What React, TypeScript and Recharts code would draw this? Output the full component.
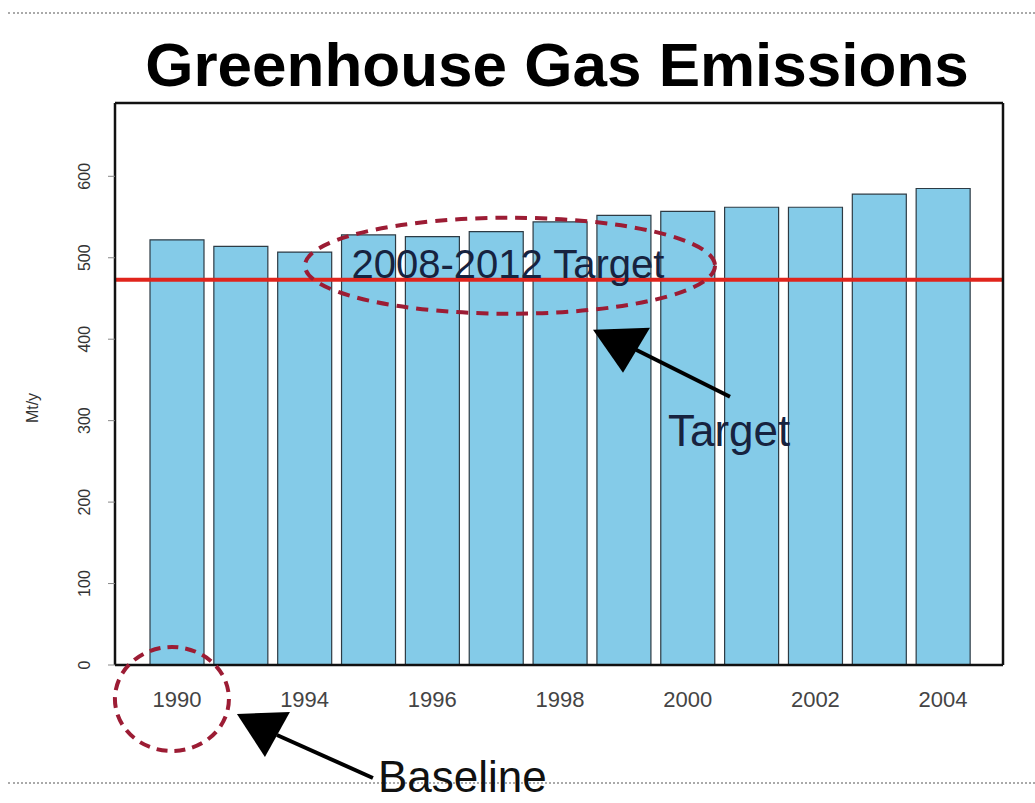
import { BarChart, Bar, XAxis, YAxis, ReferenceLine } from "recharts";

const years = ["1990", "1993", "1994", "1995", "1996", "1997", "1998", "1999", "2000", "2001", "2002", "2003", "2004"];
const emissions = [522, 514, 507, 528, 526, 532, 544, 552, 557, 562, 562, 578, 585];
const yTicks = [0, 100, 200, 300, 400, 500, 600];
const targetValue = 473;
const baselineYear = "1990";

const chartTitle = "Greenhouse Gas Emissions";
const targetPeriod = "2008-2012 Target";
const yLabel = "Mt/y";

const data = years.map((year, i) => ({ year, value: emissions[i] }));

const FONT = "'Liberation Sans', Arial, sans-serif";
const RING = "#9c1c34";

const YTick = ({ x, y, payload }: any) => (
  <text
    x={x - 18}
    y={y}
    transform={`rotate(-90, ${x - 18}, ${y})`}
    textAnchor="middle"
    fontSize={16}
    fill="#333"
    fontFamily={FONT}
  >
    {payload.value}
  </text>
);

const XTick = ({ x, y, payload }: any) => (
  <g>
    <text x={x} y={y + 42} textAnchor="middle" fontSize={22} fill="#444" fontFamily={FONT}>
      {payload.value}
    </text>
    {payload.value === baselineYear && (
      <g>
        <ellipse cx={x - 5} cy={y + 34} rx={57} ry={52} fill="none" stroke={RING} strokeWidth={4} strokeDasharray="11 7" />
        <line x1={x + 196} y1={y + 113} x2={x + 100} y2={y + 70} stroke="#000" strokeWidth={4} />
        <polygon points={`${x + 60},${y + 49} ${x + 113},${y + 47} ${x + 88},${y + 92}`} fill="#000" />
        <text x={x + 201} y={y + 127} fontSize={44} fill="#111" fontFamily={FONT}>
          Baseline
        </text>
      </g>
    )}
  </g>
);

const TargetNote = ({ viewBox }: any) => {
  const { x, y } = viewBox;
  return (
    <g>
      <ellipse cx={x + 395} cy={y - 14} rx={205} ry={48} fill="none" stroke={RING} strokeWidth={4} strokeDasharray="12 8" />
      <text x={x + 393} y={y - 2} textAnchor="middle" fontSize={40} fill="#17233f" fontFamily={FONT}>
        {targetPeriod}
      </text>
      <line x1={x + 615} y1={y + 117} x2={x + 521} y2={y + 70} stroke="#000" strokeWidth={4} />
      <polygon points={`${x + 478},${y + 50} ${x + 535},${y + 48} ${x + 508},${y + 93}`} fill="#000" />
      <text x={x + 553} y={y + 166} fontSize={44} fill="#17233f" fontFamily={FONT}>
        Target
      </text>
    </g>
  );
};

const YLabel = ({ viewBox }: any) => {
  const cx = viewBox.x - 17;
  const cy = viewBox.y + viewBox.height / 2 + 24;
  return (
    <text x={cx} y={cy} transform={`rotate(-90, ${cx}, ${cy})`} textAnchor="middle" fontSize={16} fill="#333" fontFamily={FONT}>
      {yLabel}
    </text>
  );
};

const dotted = (top: number) => ({
  position: "absolute" as const,
  left: 8,
  top,
  width: 1027,
  borderTop: "2px dotted #aaa",
});

export default function App() {
  return (
    <div style={{ position: "absolute", left: 0, top: 0, width: 1035, height: 803, background: "#fff", fontFamily: FONT }}>
      <div style={dotted(12)} />
      <div style={dotted(782)} />
      <div
        style={{
          position: "absolute",
          left: 557,
          top: 34,
          transform: "translateX(-50%)",
          whiteSpace: "nowrap",
          fontSize: 62,
          fontWeight: "bold",
          lineHeight: 1,
          color: "#000",
        }}
      >
        {chartTitle}
      </div>
      <div style={{ position: "absolute", left: 0, top: 0 }}>
        <BarChart width={1035} height={803} data={data} margin={{ top: 102, right: 31, bottom: 98, left: 55 }}>
          <XAxis
            dataKey="year"
            height={40}
            interval={1}
            tickLine={false}
            tickSize={0}
            tickMargin={0}
            tick={<XTick />}
            padding={{ left: 30, right: 28 }}
            axisLine={{ stroke: "#111", strokeWidth: 2.5 }}
          />
          <XAxis
            xAxisId="top"
            orientation="top"
            dataKey="year"
            height={1}
            tick={false}
            tickLine={false}
            axisLine={{ stroke: "#111", strokeWidth: 2.5 }}
          />
          <YAxis
            width={60}
            domain={[0, 690]}
            ticks={yTicks}
            tickSize={7}
            tickMargin={0}
            tickLine={{ stroke: "#888" }}
            tick={<YTick />}
            axisLine={{ stroke: "#111", strokeWidth: 2.5 }}
            label={<YLabel />}
          />
          <YAxis
            yAxisId="right"
            orientation="right"
            width={1}
            tick={false}
            tickLine={false}
            axisLine={{ stroke: "#111", strokeWidth: 2.5 }}
          />
          <Bar dataKey="value" fill="#84cbe8" stroke="#2d3b44" strokeWidth={1.2} barSize={54} isAnimationActive={false} />
          <ReferenceLine y={targetValue} stroke="#e0241c" strokeWidth={4} label={<TargetNote />} />
        </BarChart>
      </div>
    </div>
  );
}
